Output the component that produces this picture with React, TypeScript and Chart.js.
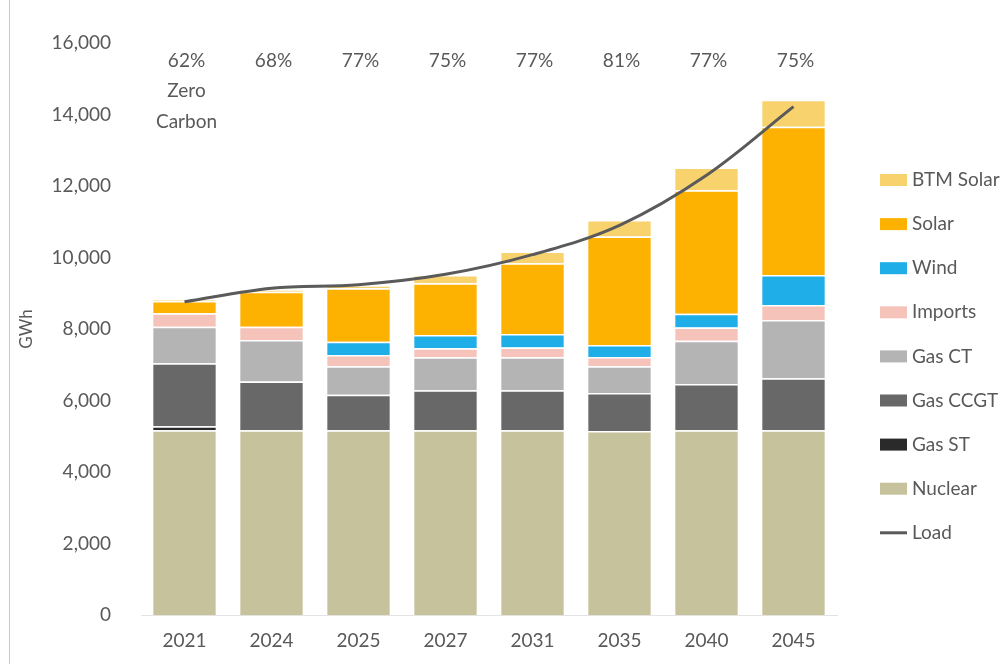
import React, { useEffect, useRef } from "react";
import { Chart, registerables } from "chart.js";

Chart.register(...registerables);

const categories = ["2021", "2024", "2025", "2027", "2031", "2035", "2040", "2045"];
const nuclear = [5170, 5170, 5170, 5170, 5170, 5150, 5170, 5170];
const gasST = [110, 0, 0, 0, 0, 0, 0, 0];
const gasCCGT = [1760, 1360, 990, 1120, 1120, 1060, 1290, 1450];
const gasCT = [1020, 1160, 800, 920, 920, 750, 1210, 1630];
const imports = [380, 370, 310, 250, 270, 260, 370, 420];
const wind = [0, 0, 370, 370, 380, 330, 390, 840];
const solar = [340, 980, 1500, 1450, 1980, 3040, 3450, 4150];
const btmSolar = [30, 60, 80, 230, 330, 460, 640, 750];
const load = [8760, 9140, 9240, 9530, 10080, 10900, 12300, 14220];
const zeroCarbonPct = ["62%", "68%", "77%", "75%", "77%", "81%", "77%", "75%"];
const yTicks = [0, 2000, 4000, 6000, 8000, 10000, 12000, 14000, 16000];

const FONT = "Lato, 'Open Sans', sans-serif";
const TEXT = "#595959";

const barSeries = [
  { label: "Nuclear", data: nuclear, color: "#C6C29C" },
  { label: "Gas ST", data: gasST, color: "#2A2A2A" },
  { label: "Gas CCGT", data: gasCCGT, color: "#686868" },
  { label: "Gas CT", data: gasCT, color: "#B4B4B4" },
  { label: "Imports", data: imports, color: "#F6C3BB" },
  { label: "Wind", data: wind, color: "#1FAEE8" },
  { label: "Solar", data: solar, color: "#FDB202" },
  { label: "BTM Solar", data: btmSolar, color: "#F8D26C" },
];
const loadColor = "#5A5A5A";

const overlayPlugin = {
  id: "overlay",
  afterDraw(chart: any) {
    const ctx = chart.ctx;
    const x = chart.scales.x;
    ctx.save();
    // left border line of the picture
    ctx.strokeStyle = "#C8C8C8";
    ctx.lineWidth = 1;
    ctx.beginPath();
    ctx.moveTo(9.5, 0);
    ctx.lineTo(9.5, 664);
    ctx.stroke();

    ctx.fillStyle = TEXT;
    ctx.font = `19px ${FONT}`;
    ctx.textAlign = "center";
    ctx.textBaseline = "middle";
    categories.forEach((c, i) => {
      const cx = x.getPixelForValue(i);
      ctx.fillText(zeroCarbonPct[i], cx + 2, 61);
    });
    const c0 = x.getPixelForValue(0) + 2;
    ctx.fillText("Zero", c0, 91);
    ctx.fillText("Carbon", c0, 122);

    // legend
    const legendItems = [...barSeries].reverse();
    const lx = 880;
    const ly0 = 180;
    const step = 44.1;
    ctx.textAlign = "left";
    legendItems.forEach((s, i) => {
      const y = ly0 + step * i;
      ctx.fillStyle = s.color;
      ctx.fillRect(lx, y - 6, 27, 12);
      ctx.fillStyle = TEXT;
      ctx.fillText(s.label, lx + 32, y);
    });
    const yL = ly0 + step * legendItems.length;
    ctx.strokeStyle = loadColor;
    ctx.lineWidth = 3;
    ctx.beginPath();
    ctx.moveTo(lx, yL);
    ctx.lineTo(lx + 27, yL);
    ctx.stroke();
    ctx.fillStyle = TEXT;
    ctx.fillText("Load", lx + 32, yL);
    ctx.restore();
  },
};

export default function App() {
  const ref = useRef<HTMLCanvasElement>(null);
  useEffect(() => {
    if (!ref.current) return;
    const datasets: any[] = [
      {
        type: "line",
        label: "Load",
        data: load,
        borderColor: loadColor,
        borderWidth: 3,
        pointRadius: 0,
        tension: 0.35,
        fill: false,
        order: -1,
        stack: "load",
      },
      ...barSeries.map((s) => ({
        type: "bar",
        label: s.label,
        data: s.data,
        backgroundColor: s.color,
        borderColor: "#FFFFFF",
        borderWidth: { top: 1.5, bottom: 0, left: 0, right: 0 },
        borderSkipped: false,
        barPercentage: 0.72,
        categoryPercentage: 1,
        order: 1,
        stack: "gen",
      })),
    ];
    const chart = new Chart(ref.current, {
      type: "bar",
      data: { labels: categories, datasets },
      options: {
        responsive: false,
        animation: false,
        devicePixelRatio: 1,
        layout: { padding: { top: 43, right: 163, bottom: 0, left: 16 } },
        plugins: { legend: { display: false }, tooltip: { enabled: false } },
        scales: {
          x: {
            stacked: true,
            grid: { display: false, drawTicks: false },
            border: { display: true, color: "#E3E3E3" },
            ticks: { color: TEXT, font: { family: FONT, size: 19 }, padding: 14 },
            afterFit: (s: any) => {
              s.height = 49;
            },
          },
          y: {
            stacked: true,
            min: 0,
            max: 16000,
            grid: { display: false, drawTicks: false },
            border: { display: false },
            afterBuildTicks: (s: any) => {
              s.ticks = yTicks.map((v) => ({ value: v }));
            },
            ticks: {
              color: TEXT,
              font: { family: FONT, size: 19 },
              padding: 30,
              callback: (v: any) => Number(v).toLocaleString("en-US"),
            },
            title: {
              display: true,
              text: "GWh",
              color: TEXT,
              font: { family: FONT, size: 17 },
              padding: { top: 0, bottom: 0 },
            },
            afterFit: (s: any) => {
              s.width = 125;
            },
          },
        },
      },
      plugins: [overlayPlugin],
    });
    return () => chart.destroy();
  }, []);
  return (
    <div style={{ position: "fixed", left: 0, top: 0, width: 1000, height: 664, background: "#fff" }}>
      <canvas ref={ref} width={1000} height={664} />
    </div>
  );
}
